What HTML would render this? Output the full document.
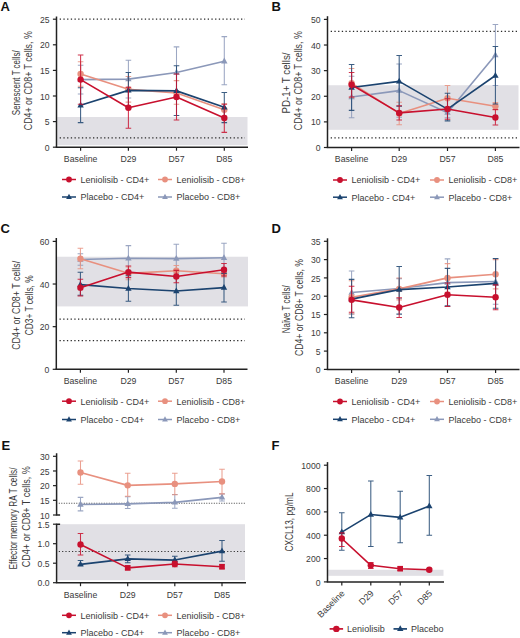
<!DOCTYPE html>
<html><head><meta charset="utf-8"><style>
html,body{margin:0;padding:0;background:#fff;}
svg{display:block;}
</style></head><body>
<svg width="520" height="638" viewBox="0 0 520 638" font-family='"Liberation Sans", sans-serif'>
<rect width="520" height="638" fill="#fff"/>
<text x="0.5" y="11.2" font-size="13" text-anchor="start" font-weight="bold" fill="#111" >A</text>
<rect x="57.25" y="116.99" width="190.25" height="28.21" fill="#E1E0E5"/>
<path d="M59.7 19.2H245" stroke="#2a2a2a" stroke-width="1.25" stroke-dasharray="1.3 2.4"/>
<path d="M59.7 137.98H245" stroke="#2a2a2a" stroke-width="1.25" stroke-dasharray="1.3 2.4"/>
<path d="M80.6 65.28V93.95M77.8 65.28H83.4M77.8 93.95H83.4" stroke="#8B98B9" stroke-width="1.05" stroke-opacity="0.85" fill="none"/>
<path d="M128.4 60.16V98.05M125.6 60.16H131.2M125.6 98.05H131.2" stroke="#8B98B9" stroke-width="1.05" stroke-opacity="0.85" fill="none"/>
<path d="M176.5 46.85V98.05M173.7 46.85H179.3M173.7 98.05H179.3" stroke="#8B98B9" stroke-width="1.05" stroke-opacity="0.85" fill="none"/>
<path d="M224.3 36.61V84.74M221.5 36.61H227.1M221.5 84.74H227.1" stroke="#8B98B9" stroke-width="1.05" stroke-opacity="0.85" fill="none"/>
<polyline points="80.6,79.62 128.4,79.1 176.5,72.45 224.3,61.18" stroke="#8B98B9" stroke-width="1.6" fill="none" stroke-linejoin="round"/>
<path d="M80.6 76.02L83.8 81.82L77.4 81.82Z" fill="#8B98B9"/>
<path d="M128.4 75.51L131.6 81.31L125.2 81.31Z" fill="#8B98B9"/>
<path d="M176.5 68.85L179.7 74.65L173.3 74.65Z" fill="#8B98B9"/>
<path d="M224.3 57.59L227.5 63.39L221.1 63.39Z" fill="#8B98B9"/>
<path d="M80.6 61.7V86.27M77.8 61.7H83.4M77.8 86.27H83.4" stroke="#E8907F" stroke-width="1.05" stroke-opacity="0.85" fill="none"/>
<path d="M128.4 76.54V102.14M125.6 76.54H131.2M125.6 102.14H131.2" stroke="#E8907F" stroke-width="1.05" stroke-opacity="0.85" fill="none"/>
<path d="M176.5 80.64V104.19M173.7 80.64H179.3M173.7 104.19H179.3" stroke="#E8907F" stroke-width="1.05" stroke-opacity="0.85" fill="none"/>
<path d="M224.3 103.68V115.97M221.5 103.68H227.1M221.5 115.97H227.1" stroke="#E8907F" stroke-width="1.05" stroke-opacity="0.85" fill="none"/>
<polyline points="80.6,73.98 128.4,89.34 176.5,92.93 224.3,109.82" stroke="#E8907F" stroke-width="1.6" fill="none" stroke-linejoin="round"/>
<circle cx="80.6" cy="73.98" r="3.2" fill="#E8907F"/>
<circle cx="128.4" cy="89.34" r="3.2" fill="#E8907F"/>
<circle cx="176.5" cy="92.93" r="3.2" fill="#E8907F"/>
<circle cx="224.3" cy="109.82" r="3.2" fill="#E8907F"/>
<path d="M80.6 87.81V122.62M77.8 87.81H83.4M77.8 122.62H83.4" stroke="#1B436F" stroke-width="1.05" stroke-opacity="0.85" fill="none"/>
<path d="M128.4 72.45V108.29M125.6 72.45H131.2M125.6 108.29H131.2" stroke="#1B436F" stroke-width="1.05" stroke-opacity="0.85" fill="none"/>
<path d="M176.5 65.79V115.46M173.7 65.79H179.3M173.7 115.46H179.3" stroke="#1B436F" stroke-width="1.05" stroke-opacity="0.85" fill="none"/>
<path d="M224.3 92.42V122.62M221.5 92.42H227.1M221.5 122.62H227.1" stroke="#1B436F" stroke-width="1.05" stroke-opacity="0.85" fill="none"/>
<polyline points="80.6,105.22 128.4,90.37 176.5,90.88 224.3,107.26" stroke="#1B436F" stroke-width="1.6" fill="none" stroke-linejoin="round"/>
<path d="M80.6 101.62L83.8 107.42L77.4 107.42Z" fill="#1B436F"/>
<path d="M128.4 86.77L131.6 92.57L125.2 92.57Z" fill="#1B436F"/>
<path d="M176.5 87.28L179.7 93.08L173.3 93.08Z" fill="#1B436F"/>
<path d="M224.3 103.67L227.5 109.47L221.1 109.47Z" fill="#1B436F"/>
<path d="M80.6 55.04V104.19M77.8 55.04H83.4M77.8 104.19H83.4" stroke="#C8102E" stroke-width="1.05" stroke-opacity="0.85" fill="none"/>
<path d="M128.4 87.3V128.26M125.6 87.3H131.2M125.6 128.26H131.2" stroke="#C8102E" stroke-width="1.05" stroke-opacity="0.85" fill="none"/>
<path d="M176.5 73.98V120.06M173.7 73.98H179.3M173.7 120.06H179.3" stroke="#C8102E" stroke-width="1.05" stroke-opacity="0.85" fill="none"/>
<path d="M224.3 104.19V132.35M221.5 104.19H227.1M221.5 132.35H227.1" stroke="#C8102E" stroke-width="1.05" stroke-opacity="0.85" fill="none"/>
<polyline points="80.6,79.62 128.4,107.78 176.5,97.02 224.3,118.02" stroke="#C8102E" stroke-width="1.6" fill="none" stroke-linejoin="round"/>
<circle cx="80.6" cy="79.62" r="3.2" fill="#C8102E"/>
<circle cx="128.4" cy="107.78" r="3.2" fill="#C8102E"/>
<circle cx="176.5" cy="97.02" r="3.2" fill="#C8102E"/>
<circle cx="224.3" cy="118.02" r="3.2" fill="#C8102E"/>
<path d="M56.5 16.5V147.2" stroke="#222" stroke-width="1.5"/>
<path d="M52.9 147.2H56.5" stroke="#222" stroke-width="1.2"/>
<text transform="translate(49.5 150.8) scale(0.88 1)" font-size="9.8" text-anchor="end" font-weight="normal" fill="#3a3a3a" >0</text>
<path d="M52.9 121.6H56.5" stroke="#222" stroke-width="1.2"/>
<text transform="translate(49.5 125.2) scale(0.88 1)" font-size="9.8" text-anchor="end" font-weight="normal" fill="#3a3a3a" >5</text>
<path d="M52.9 96H56.5" stroke="#222" stroke-width="1.2"/>
<text transform="translate(49.5 99.6) scale(0.88 1)" font-size="9.8" text-anchor="end" font-weight="normal" fill="#3a3a3a" >10</text>
<path d="M52.9 70.4H56.5" stroke="#222" stroke-width="1.2"/>
<text transform="translate(49.5 74) scale(0.88 1)" font-size="9.8" text-anchor="end" font-weight="normal" fill="#3a3a3a" >15</text>
<path d="M52.9 44.8H56.5" stroke="#222" stroke-width="1.2"/>
<text transform="translate(49.5 48.4) scale(0.88 1)" font-size="9.8" text-anchor="end" font-weight="normal" fill="#3a3a3a" >20</text>
<path d="M52.9 19.2H56.5" stroke="#222" stroke-width="1.2"/>
<text transform="translate(49.5 22.8) scale(0.88 1)" font-size="9.8" text-anchor="end" font-weight="normal" fill="#3a3a3a" >25</text>
<path d="M55.75 147.2H248" stroke="#222" stroke-width="1.5"/>
<path d="M80.6 147.2V150.7" stroke="#222" stroke-width="1.2"/>
<text transform="translate(80.6 162) scale(0.94 1)" font-size="9.3" text-anchor="middle" font-weight="normal" fill="#3a3a3a" >Baseline</text>
<path d="M128.4 147.2V150.7" stroke="#222" stroke-width="1.2"/>
<text transform="translate(128.4 162) scale(0.94 1)" font-size="9.3" text-anchor="middle" font-weight="normal" fill="#3a3a3a" >D29</text>
<path d="M176.5 147.2V150.7" stroke="#222" stroke-width="1.2"/>
<text transform="translate(176.5 162) scale(0.94 1)" font-size="9.3" text-anchor="middle" font-weight="normal" fill="#3a3a3a" >D57</text>
<path d="M224.3 147.2V150.7" stroke="#222" stroke-width="1.2"/>
<text transform="translate(224.3 162) scale(0.94 1)" font-size="9.3" text-anchor="middle" font-weight="normal" fill="#3a3a3a" >D85</text>
<text transform="translate(19.5 82.7) rotate(-90)" x="0" y="0" font-size="10.3" text-anchor="middle" fill="#3a3a3a" textLength="65" lengthAdjust="spacingAndGlyphs">Senescent T cells/</text>
<text transform="translate(32.1 80.7) rotate(-90)" x="0" y="0" font-size="10.3" text-anchor="middle" fill="#3a3a3a" textLength="99" lengthAdjust="spacingAndGlyphs">CD4+ or CD8+ T cells, %</text>
<path d="M62 179.5H76" stroke="#C8102E" stroke-width="1.5"/>
<circle cx="69" cy="179.5" r="2.88" fill="#C8102E"/>
<text transform="translate(80.5 182.8) scale(0.94 1)" font-size="9.6" text-anchor="start" font-weight="normal" fill="#3a3a3a" >Leniolisib - CD4+</text>
<path d="M158 179.5H172" stroke="#E8907F" stroke-width="1.5"/>
<circle cx="165" cy="179.5" r="2.88" fill="#E8907F"/>
<text transform="translate(176.5 182.8) scale(0.94 1)" font-size="9.6" text-anchor="start" font-weight="normal" fill="#3a3a3a" >Leniolisib - CD8+</text>
<path d="M62 197H76" stroke="#1B436F" stroke-width="1.5"/>
<path d="M69 193.76L71.88 198.98L66.12 198.98Z" fill="#1B436F"/>
<text transform="translate(80.5 200.3) scale(0.94 1)" font-size="9.6" text-anchor="start" font-weight="normal" fill="#3a3a3a" >Placebo - CD4+</text>
<path d="M158 197H172" stroke="#8B98B9" stroke-width="1.5"/>
<path d="M165 193.76L167.88 198.98L162.12 198.98Z" fill="#8B98B9"/>
<text transform="translate(176.5 200.3) scale(0.94 1)" font-size="9.6" text-anchor="start" font-weight="normal" fill="#3a3a3a" >Placebo - CD8+</text>
<text x="271.5" y="11.2" font-size="13" text-anchor="start" font-weight="bold" fill="#111" >B</text>
<rect x="328.25" y="85.24" width="190.25" height="44.58" fill="#E1E0E5"/>
<path d="M330.7 31.44H517" stroke="#2a2a2a" stroke-width="1.25" stroke-dasharray="1.3 2.4"/>
<path d="M330.7 137.76H517" stroke="#2a2a2a" stroke-width="1.25" stroke-dasharray="1.3 2.4"/>
<path d="M351.6 76.28V117.78M348.8 76.28H354.4M348.8 117.78H354.4" stroke="#8B98B9" stroke-width="1.05" stroke-opacity="0.85" fill="none"/>
<path d="M399.2 63.98V117.27M396.4 63.98H402M396.4 117.27H402" stroke="#8B98B9" stroke-width="1.05" stroke-opacity="0.85" fill="none"/>
<path d="M447.5 107.53V117.78M444.7 107.53H450.3M444.7 117.78H450.3" stroke="#8B98B9" stroke-width="1.05" stroke-opacity="0.85" fill="none"/>
<path d="M495.4 24.52V85.5M492.6 24.52H498.2M492.6 85.5H498.2" stroke="#8B98B9" stroke-width="1.05" stroke-opacity="0.85" fill="none"/>
<polyline points="351.6,97.03 399.2,90.62 447.5,112.66 495.4,55.01" stroke="#8B98B9" stroke-width="1.6" fill="none" stroke-linejoin="round"/>
<path d="M351.6 93.43L354.8 99.23L348.4 99.23Z" fill="#8B98B9"/>
<path d="M399.2 87.03L402.4 92.83L396 92.83Z" fill="#8B98B9"/>
<path d="M447.5 109.06L450.7 114.86L444.3 114.86Z" fill="#8B98B9"/>
<path d="M495.4 51.42L498.6 57.22L492.2 57.22Z" fill="#8B98B9"/>
<path d="M351.6 68.59V97.8M348.8 68.59H354.4M348.8 97.8H354.4" stroke="#E8907F" stroke-width="1.05" stroke-opacity="0.85" fill="none"/>
<path d="M399.2 102.15V124.7M396.4 102.15H402M396.4 124.7H402" stroke="#E8907F" stroke-width="1.05" stroke-opacity="0.85" fill="none"/>
<path d="M447.5 85.5V111.12M444.7 85.5H450.3M444.7 111.12H450.3" stroke="#E8907F" stroke-width="1.05" stroke-opacity="0.85" fill="none"/>
<path d="M495.4 102.41V110.09M492.6 102.41H498.2M492.6 110.09H498.2" stroke="#E8907F" stroke-width="1.05" stroke-opacity="0.85" fill="none"/>
<polyline points="351.6,83.19 399.2,113.43 447.5,98.31 495.4,106.25" stroke="#E8907F" stroke-width="1.6" fill="none" stroke-linejoin="round"/>
<circle cx="351.6" cy="83.19" r="3.2" fill="#E8907F"/>
<circle cx="399.2" cy="113.43" r="3.2" fill="#E8907F"/>
<circle cx="447.5" cy="98.31" r="3.2" fill="#E8907F"/>
<circle cx="495.4" cy="106.25" r="3.2" fill="#E8907F"/>
<path d="M351.6 64.49V110.35M348.8 64.49H354.4M348.8 110.35H354.4" stroke="#1B436F" stroke-width="1.05" stroke-opacity="0.85" fill="none"/>
<path d="M399.2 55.52V106.25M396.4 55.52H402M396.4 106.25H402" stroke="#1B436F" stroke-width="1.05" stroke-opacity="0.85" fill="none"/>
<path d="M447.5 93.19V120.86M444.7 93.19H450.3M444.7 120.86H450.3" stroke="#1B436F" stroke-width="1.05" stroke-opacity="0.85" fill="none"/>
<path d="M495.4 46.56V103.95M492.6 46.56H498.2M492.6 103.95H498.2" stroke="#1B436F" stroke-width="1.05" stroke-opacity="0.85" fill="none"/>
<polyline points="351.6,87.55 399.2,81.4 447.5,109.07 495.4,75.51" stroke="#1B436F" stroke-width="1.6" fill="none" stroke-linejoin="round"/>
<path d="M351.6 83.95L354.8 89.75L348.4 89.75Z" fill="#1B436F"/>
<path d="M399.2 77.8L402.4 83.6L396 83.6Z" fill="#1B436F"/>
<path d="M447.5 105.47L450.7 111.27L444.3 111.27Z" fill="#1B436F"/>
<path d="M495.4 71.91L498.6 77.71L492.2 77.71Z" fill="#1B436F"/>
<path d="M351.6 72.43V97.03M348.8 72.43H354.4M348.8 97.03H354.4" stroke="#C8102E" stroke-width="1.05" stroke-opacity="0.85" fill="none"/>
<path d="M399.2 105.74V120.09M396.4 105.74H402M396.4 120.09H402" stroke="#C8102E" stroke-width="1.05" stroke-opacity="0.85" fill="none"/>
<path d="M447.5 98.82V119.32M444.7 98.82H450.3M444.7 119.32H450.3" stroke="#C8102E" stroke-width="1.05" stroke-opacity="0.85" fill="none"/>
<path d="M495.4 109.58V124.95M492.6 109.58H498.2M492.6 124.95H498.2" stroke="#C8102E" stroke-width="1.05" stroke-opacity="0.85" fill="none"/>
<polyline points="351.6,84.73 399.2,112.91 447.5,109.07 495.4,117.52" stroke="#C8102E" stroke-width="1.6" fill="none" stroke-linejoin="round"/>
<circle cx="351.6" cy="84.73" r="3.2" fill="#C8102E"/>
<circle cx="399.2" cy="112.91" r="3.2" fill="#C8102E"/>
<circle cx="447.5" cy="109.07" r="3.2" fill="#C8102E"/>
<circle cx="495.4" cy="117.52" r="3.2" fill="#C8102E"/>
<path d="M327.5 16.2V147.5" stroke="#222" stroke-width="1.5"/>
<path d="M323.9 147.5H327.5" stroke="#222" stroke-width="1.2"/>
<text transform="translate(320.5 151.1) scale(0.88 1)" font-size="9.8" text-anchor="end" font-weight="normal" fill="#3a3a3a" >0</text>
<path d="M323.9 121.88H327.5" stroke="#222" stroke-width="1.2"/>
<text transform="translate(320.5 125.48) scale(0.88 1)" font-size="9.8" text-anchor="end" font-weight="normal" fill="#3a3a3a" >10</text>
<path d="M323.9 96.26H327.5" stroke="#222" stroke-width="1.2"/>
<text transform="translate(320.5 99.86) scale(0.88 1)" font-size="9.8" text-anchor="end" font-weight="normal" fill="#3a3a3a" >20</text>
<path d="M323.9 70.64H327.5" stroke="#222" stroke-width="1.2"/>
<text transform="translate(320.5 74.24) scale(0.88 1)" font-size="9.8" text-anchor="end" font-weight="normal" fill="#3a3a3a" >30</text>
<path d="M323.9 45.02H327.5" stroke="#222" stroke-width="1.2"/>
<text transform="translate(320.5 48.62) scale(0.88 1)" font-size="9.8" text-anchor="end" font-weight="normal" fill="#3a3a3a" >40</text>
<path d="M323.9 19.4H327.5" stroke="#222" stroke-width="1.2"/>
<text transform="translate(320.5 23) scale(0.88 1)" font-size="9.8" text-anchor="end" font-weight="normal" fill="#3a3a3a" >50</text>
<path d="M326.75 147.5H519.5" stroke="#222" stroke-width="1.5"/>
<path d="M351.6 147.5V151" stroke="#222" stroke-width="1.2"/>
<text transform="translate(351.6 162.3) scale(0.94 1)" font-size="9.3" text-anchor="middle" font-weight="normal" fill="#3a3a3a" >Baseline</text>
<path d="M399.2 147.5V151" stroke="#222" stroke-width="1.2"/>
<text transform="translate(399.2 162.3) scale(0.94 1)" font-size="9.3" text-anchor="middle" font-weight="normal" fill="#3a3a3a" >D29</text>
<path d="M447.5 147.5V151" stroke="#222" stroke-width="1.2"/>
<text transform="translate(447.5 162.3) scale(0.94 1)" font-size="9.3" text-anchor="middle" font-weight="normal" fill="#3a3a3a" >D57</text>
<path d="M495.4 147.5V151" stroke="#222" stroke-width="1.2"/>
<text transform="translate(495.4 162.3) scale(0.94 1)" font-size="9.3" text-anchor="middle" font-weight="normal" fill="#3a3a3a" >D85</text>
<text transform="translate(289.8 83) rotate(-90)" x="0" y="0" font-size="10.3" text-anchor="middle" fill="#3a3a3a" textLength="61" lengthAdjust="spacingAndGlyphs">PD-1+ T cells/</text>
<text transform="translate(302.4 80.7) rotate(-90)" x="0" y="0" font-size="10.3" text-anchor="middle" fill="#3a3a3a" textLength="99" lengthAdjust="spacingAndGlyphs">CD4+ or CD8+ T cells, %</text>
<path d="M333 180H347" stroke="#C8102E" stroke-width="1.5"/>
<circle cx="340" cy="180" r="2.88" fill="#C8102E"/>
<text transform="translate(351.5 183.3) scale(0.94 1)" font-size="9.6" text-anchor="start" font-weight="normal" fill="#3a3a3a" >Leniolisib - CD4+</text>
<path d="M430 180H444" stroke="#E8907F" stroke-width="1.5"/>
<circle cx="437" cy="180" r="2.88" fill="#E8907F"/>
<text transform="translate(448.5 183.3) scale(0.94 1)" font-size="9.6" text-anchor="start" font-weight="normal" fill="#3a3a3a" >Leniolisib - CD8+</text>
<path d="M333 197.2H347" stroke="#1B436F" stroke-width="1.5"/>
<path d="M340 193.96L342.88 199.18L337.12 199.18Z" fill="#1B436F"/>
<text transform="translate(351.5 200.5) scale(0.94 1)" font-size="9.6" text-anchor="start" font-weight="normal" fill="#3a3a3a" >Placebo - CD4+</text>
<path d="M430 197.2H444" stroke="#8B98B9" stroke-width="1.5"/>
<path d="M437 193.96L439.88 199.18L434.12 199.18Z" fill="#8B98B9"/>
<text transform="translate(448.5 200.5) scale(0.94 1)" font-size="9.6" text-anchor="start" font-weight="normal" fill="#3a3a3a" >Placebo - CD8+</text>
<text x="0.5" y="233.3" font-size="13" text-anchor="start" font-weight="bold" fill="#111" >C</text>
<rect x="57.05" y="256.73" width="190.95" height="49.68" fill="#E1E0E5"/>
<path d="M59.5 319.2H245" stroke="#2a2a2a" stroke-width="1.25" stroke-dasharray="1.3 2.4"/>
<path d="M59.5 340.52H245" stroke="#2a2a2a" stroke-width="1.25" stroke-dasharray="1.3 2.4"/>
<path d="M80.4 253.75V265.26M77.6 253.75H83.2M77.6 265.26H83.2" stroke="#8B98B9" stroke-width="1.05" stroke-opacity="0.85" fill="none"/>
<path d="M128.4 245.64V270.8M125.6 245.64H131.2M125.6 270.8H131.2" stroke="#8B98B9" stroke-width="1.05" stroke-opacity="0.85" fill="none"/>
<path d="M176.3 244.15V273.15M173.5 244.15H179.1M173.5 273.15H179.1" stroke="#8B98B9" stroke-width="1.05" stroke-opacity="0.85" fill="none"/>
<path d="M224 243.3V272.29M221.2 243.3H226.8M221.2 272.29H226.8" stroke="#8B98B9" stroke-width="1.05" stroke-opacity="0.85" fill="none"/>
<polyline points="80.4,259.5 128.4,258.22 176.3,258.65 224,257.8" stroke="#8B98B9" stroke-width="1.6" fill="none" stroke-linejoin="round"/>
<path d="M80.4 255.91L83.6 261.71L77.2 261.71Z" fill="#8B98B9"/>
<path d="M128.4 254.63L131.6 260.43L125.2 260.43Z" fill="#8B98B9"/>
<path d="M176.3 255.05L179.5 260.85L173.1 260.85Z" fill="#8B98B9"/>
<path d="M224 254.2L227.2 260L220.8 260Z" fill="#8B98B9"/>
<path d="M80.4 248.2V268.67M77.6 248.2H83.2M77.6 268.67H83.2" stroke="#E8907F" stroke-width="1.05" stroke-opacity="0.85" fill="none"/>
<path d="M128.4 266.96V279.76M125.6 266.96H131.2M125.6 279.76H131.2" stroke="#E8907F" stroke-width="1.05" stroke-opacity="0.85" fill="none"/>
<path d="M176.3 265.47V276.13M173.5 265.47H179.1M173.5 276.13H179.1" stroke="#E8907F" stroke-width="1.05" stroke-opacity="0.85" fill="none"/>
<path d="M224 270.59V276.98M221.2 270.59H226.8M221.2 276.98H226.8" stroke="#E8907F" stroke-width="1.05" stroke-opacity="0.85" fill="none"/>
<polyline points="80.4,258.65 128.4,273.36 176.3,270.8 224,273.79" stroke="#E8907F" stroke-width="1.6" fill="none" stroke-linejoin="round"/>
<circle cx="80.4" cy="258.65" r="3.2" fill="#E8907F"/>
<circle cx="128.4" cy="273.36" r="3.2" fill="#E8907F"/>
<circle cx="176.3" cy="270.8" r="3.2" fill="#E8907F"/>
<circle cx="224" cy="273.79" r="3.2" fill="#E8907F"/>
<path d="M80.4 272.29V295.32M77.6 272.29H83.2M77.6 295.32H83.2" stroke="#1B436F" stroke-width="1.05" stroke-opacity="0.85" fill="none"/>
<path d="M128.4 275.71V301.29M125.6 275.71H131.2M125.6 301.29H131.2" stroke="#1B436F" stroke-width="1.05" stroke-opacity="0.85" fill="none"/>
<path d="M176.3 276.77V305.34M173.5 276.77H179.1M173.5 305.34H179.1" stroke="#1B436F" stroke-width="1.05" stroke-opacity="0.85" fill="none"/>
<path d="M224 273.36V301.93M221.2 273.36H226.8M221.2 301.93H226.8" stroke="#1B436F" stroke-width="1.05" stroke-opacity="0.85" fill="none"/>
<polyline points="80.4,284.66 128.4,288.5 176.3,291.06 224,287.64" stroke="#1B436F" stroke-width="1.6" fill="none" stroke-linejoin="round"/>
<path d="M80.4 281.06L83.6 286.86L77.2 286.86Z" fill="#1B436F"/>
<path d="M128.4 284.9L131.6 290.7L125.2 290.7Z" fill="#1B436F"/>
<path d="M176.3 287.46L179.5 293.26L173.1 293.26Z" fill="#1B436F"/>
<path d="M224 284.05L227.2 289.85L220.8 289.85Z" fill="#1B436F"/>
<path d="M80.4 279.33V295.96M77.6 279.33H83.2M77.6 295.96H83.2" stroke="#C8102E" stroke-width="1.05" stroke-opacity="0.85" fill="none"/>
<path d="M128.4 265.9V277.62M125.6 265.9H131.2M125.6 277.62H131.2" stroke="#C8102E" stroke-width="1.05" stroke-opacity="0.85" fill="none"/>
<path d="M176.3 270.38V282.74M173.5 270.38H179.1M173.5 282.74H179.1" stroke="#C8102E" stroke-width="1.05" stroke-opacity="0.85" fill="none"/>
<path d="M224 263.55V275.92M221.2 263.55H226.8M221.2 275.92H226.8" stroke="#C8102E" stroke-width="1.05" stroke-opacity="0.85" fill="none"/>
<polyline points="80.4,287.64 128.4,272.08 176.3,276.56 224,269.74" stroke="#C8102E" stroke-width="1.6" fill="none" stroke-linejoin="round"/>
<circle cx="80.4" cy="287.64" r="3.2" fill="#C8102E"/>
<circle cx="128.4" cy="272.08" r="3.2" fill="#C8102E"/>
<circle cx="176.3" cy="276.56" r="3.2" fill="#C8102E"/>
<circle cx="224" cy="269.74" r="3.2" fill="#C8102E"/>
<path d="M56.3 238V369.3" stroke="#222" stroke-width="1.5"/>
<path d="M52.7 369.3H56.3" stroke="#222" stroke-width="1.2"/>
<text transform="translate(49.3 372.9) scale(0.88 1)" font-size="9.8" text-anchor="end" font-weight="normal" fill="#3a3a3a" >0</text>
<path d="M52.7 326.66H56.3" stroke="#222" stroke-width="1.2"/>
<text transform="translate(49.3 330.26) scale(0.88 1)" font-size="9.8" text-anchor="end" font-weight="normal" fill="#3a3a3a" >20</text>
<path d="M52.7 284.02H56.3" stroke="#222" stroke-width="1.2"/>
<text transform="translate(49.3 287.62) scale(0.88 1)" font-size="9.8" text-anchor="end" font-weight="normal" fill="#3a3a3a" >40</text>
<path d="M52.7 241.38H56.3" stroke="#222" stroke-width="1.2"/>
<text transform="translate(49.3 244.98) scale(0.88 1)" font-size="9.8" text-anchor="end" font-weight="normal" fill="#3a3a3a" >60</text>
<path d="M55.55 369.3H247.5" stroke="#222" stroke-width="1.5"/>
<path d="M80.4 369.3V372.8" stroke="#222" stroke-width="1.2"/>
<text transform="translate(80.4 384.1) scale(0.94 1)" font-size="9.3" text-anchor="middle" font-weight="normal" fill="#3a3a3a" >Baseline</text>
<path d="M128.4 369.3V372.8" stroke="#222" stroke-width="1.2"/>
<text transform="translate(128.4 384.1) scale(0.94 1)" font-size="9.3" text-anchor="middle" font-weight="normal" fill="#3a3a3a" >D29</text>
<path d="M176.3 369.3V372.8" stroke="#222" stroke-width="1.2"/>
<text transform="translate(176.3 384.1) scale(0.94 1)" font-size="9.3" text-anchor="middle" font-weight="normal" fill="#3a3a3a" >D57</text>
<path d="M224 369.3V372.8" stroke="#222" stroke-width="1.2"/>
<text transform="translate(224 384.1) scale(0.94 1)" font-size="9.3" text-anchor="middle" font-weight="normal" fill="#3a3a3a" >D85</text>
<text transform="translate(20 305.3) rotate(-90)" x="0" y="0" font-size="10.3" text-anchor="middle" fill="#3a3a3a" textLength="89" lengthAdjust="spacingAndGlyphs">CD4+ or CD8+ T cells/</text>
<text transform="translate(32.6 305.3) rotate(-90)" x="0" y="0" font-size="10.3" text-anchor="middle" fill="#3a3a3a" textLength="60" lengthAdjust="spacingAndGlyphs">CD3+ T cells, %</text>
<path d="M62 401.2H76" stroke="#C8102E" stroke-width="1.5"/>
<circle cx="69" cy="401.2" r="2.88" fill="#C8102E"/>
<text transform="translate(80.5 404.5) scale(0.94 1)" font-size="9.6" text-anchor="start" font-weight="normal" fill="#3a3a3a" >Leniolisib - CD4+</text>
<path d="M158 401.2H172" stroke="#E8907F" stroke-width="1.5"/>
<circle cx="165" cy="401.2" r="2.88" fill="#E8907F"/>
<text transform="translate(176.5 404.5) scale(0.94 1)" font-size="9.6" text-anchor="start" font-weight="normal" fill="#3a3a3a" >Leniolisib - CD8+</text>
<path d="M62 419.5H76" stroke="#1B436F" stroke-width="1.5"/>
<path d="M69 416.26L71.88 421.48L66.12 421.48Z" fill="#1B436F"/>
<text transform="translate(80.5 422.8) scale(0.94 1)" font-size="9.6" text-anchor="start" font-weight="normal" fill="#3a3a3a" >Placebo - CD4+</text>
<path d="M158 419.5H172" stroke="#8B98B9" stroke-width="1.5"/>
<path d="M165 416.26L167.88 421.48L162.12 421.48Z" fill="#8B98B9"/>
<text transform="translate(176.5 422.8) scale(0.94 1)" font-size="9.6" text-anchor="start" font-weight="normal" fill="#3a3a3a" >Placebo - CD8+</text>
<text x="271.5" y="233.3" font-size="13" text-anchor="start" font-weight="bold" fill="#111" >D</text>
<path d="M351.6 270.95V314.13M348.8 270.95H354.4M348.8 314.13H354.4" stroke="#8B98B9" stroke-width="1.05" stroke-opacity="0.85" fill="none"/>
<path d="M399.2 278.63V298.4M396.4 278.63H402M396.4 298.4H402" stroke="#8B98B9" stroke-width="1.05" stroke-opacity="0.85" fill="none"/>
<path d="M447.5 258.87V306.45M444.7 258.87H450.3M444.7 306.45H450.3" stroke="#8B98B9" stroke-width="1.05" stroke-opacity="0.85" fill="none"/>
<path d="M495.6 258.87V304.25M492.8 258.87H498.4M492.8 304.25H498.4" stroke="#8B98B9" stroke-width="1.05" stroke-opacity="0.85" fill="none"/>
<polyline points="351.6,292.54 399.2,288.51 447.5,282.66 495.6,281.56" stroke="#8B98B9" stroke-width="1.6" fill="none" stroke-linejoin="round"/>
<path d="M351.6 288.94L354.8 294.74L348.4 294.74Z" fill="#8B98B9"/>
<path d="M399.2 284.92L402.4 290.72L396 290.72Z" fill="#8B98B9"/>
<path d="M447.5 279.06L450.7 284.86L444.3 284.86Z" fill="#8B98B9"/>
<path d="M495.6 277.96L498.8 283.76L492.4 283.76Z" fill="#8B98B9"/>
<path d="M351.6 280.83V313.77M348.8 280.83H354.4M348.8 313.77H354.4" stroke="#E8907F" stroke-width="1.05" stroke-opacity="0.85" fill="none"/>
<path d="M399.2 277.9V299.86M396.4 277.9H402M396.4 299.86H402" stroke="#E8907F" stroke-width="1.05" stroke-opacity="0.85" fill="none"/>
<path d="M447.5 263.63V292.17M444.7 263.63H450.3M444.7 292.17H450.3" stroke="#E8907F" stroke-width="1.05" stroke-opacity="0.85" fill="none"/>
<path d="M495.6 259.6V288.88M492.8 259.6H498.4M492.8 288.88H498.4" stroke="#E8907F" stroke-width="1.05" stroke-opacity="0.85" fill="none"/>
<polyline points="351.6,297.3 399.2,288.88 447.5,277.9 495.6,274.24" stroke="#E8907F" stroke-width="1.6" fill="none" stroke-linejoin="round"/>
<circle cx="351.6" cy="297.3" r="3.2" fill="#E8907F"/>
<circle cx="399.2" cy="288.88" r="3.2" fill="#E8907F"/>
<circle cx="447.5" cy="277.9" r="3.2" fill="#E8907F"/>
<circle cx="495.6" cy="274.24" r="3.2" fill="#E8907F"/>
<path d="M351.6 279.36V317.79M348.8 279.36H354.4M348.8 317.79H354.4" stroke="#1B436F" stroke-width="1.05" stroke-opacity="0.85" fill="none"/>
<path d="M399.2 266.55V314.13M396.4 266.55H402M396.4 314.13H402" stroke="#1B436F" stroke-width="1.05" stroke-opacity="0.85" fill="none"/>
<path d="M447.5 268.38V305.72M444.7 268.38H450.3M444.7 305.72H450.3" stroke="#1B436F" stroke-width="1.05" stroke-opacity="0.85" fill="none"/>
<path d="M495.6 258.5V308.28M492.8 258.5H498.4M492.8 308.28H498.4" stroke="#1B436F" stroke-width="1.05" stroke-opacity="0.85" fill="none"/>
<polyline points="351.6,299.13 399.2,289.61 447.5,287.05 495.6,283.39" stroke="#1B436F" stroke-width="1.6" fill="none" stroke-linejoin="round"/>
<path d="M351.6 295.53L354.8 301.33L348.4 301.33Z" fill="#1B436F"/>
<path d="M399.2 286.02L402.4 291.82L396 291.82Z" fill="#1B436F"/>
<path d="M447.5 283.45L450.7 289.25L444.3 289.25Z" fill="#1B436F"/>
<path d="M495.6 279.79L498.8 285.59L492.4 285.59Z" fill="#1B436F"/>
<path d="M351.6 286.32V312.3M348.8 286.32H354.4M348.8 312.3H354.4" stroke="#C8102E" stroke-width="1.05" stroke-opacity="0.85" fill="none"/>
<path d="M399.2 297.66V317.43M396.4 297.66H402M396.4 317.43H402" stroke="#C8102E" stroke-width="1.05" stroke-opacity="0.85" fill="none"/>
<path d="M447.5 283.02V306.45M444.7 283.02H450.3M444.7 306.45H450.3" stroke="#C8102E" stroke-width="1.05" stroke-opacity="0.85" fill="none"/>
<path d="M495.6 284.85V309.74M492.8 284.85H498.4M492.8 309.74H498.4" stroke="#C8102E" stroke-width="1.05" stroke-opacity="0.85" fill="none"/>
<polyline points="351.6,299.86 399.2,307.55 447.5,294.74 495.6,297.3" stroke="#C8102E" stroke-width="1.6" fill="none" stroke-linejoin="round"/>
<circle cx="351.6" cy="299.86" r="3.2" fill="#C8102E"/>
<circle cx="399.2" cy="307.55" r="3.2" fill="#C8102E"/>
<circle cx="447.5" cy="294.74" r="3.2" fill="#C8102E"/>
<circle cx="495.6" cy="297.3" r="3.2" fill="#C8102E"/>
<path d="M327.5 238.3V369.4" stroke="#222" stroke-width="1.5"/>
<path d="M323.9 369.4H327.5" stroke="#222" stroke-width="1.2"/>
<text transform="translate(320.5 373) scale(0.88 1)" font-size="9.8" text-anchor="end" font-weight="normal" fill="#3a3a3a" >0</text>
<path d="M323.9 351.1H327.5" stroke="#222" stroke-width="1.2"/>
<text transform="translate(320.5 354.7) scale(0.88 1)" font-size="9.8" text-anchor="end" font-weight="normal" fill="#3a3a3a" >5</text>
<path d="M323.9 332.8H327.5" stroke="#222" stroke-width="1.2"/>
<text transform="translate(320.5 336.4) scale(0.88 1)" font-size="9.8" text-anchor="end" font-weight="normal" fill="#3a3a3a" >10</text>
<path d="M323.9 314.5H327.5" stroke="#222" stroke-width="1.2"/>
<text transform="translate(320.5 318.1) scale(0.88 1)" font-size="9.8" text-anchor="end" font-weight="normal" fill="#3a3a3a" >15</text>
<path d="M323.9 296.2H327.5" stroke="#222" stroke-width="1.2"/>
<text transform="translate(320.5 299.8) scale(0.88 1)" font-size="9.8" text-anchor="end" font-weight="normal" fill="#3a3a3a" >20</text>
<path d="M323.9 277.9H327.5" stroke="#222" stroke-width="1.2"/>
<text transform="translate(320.5 281.5) scale(0.88 1)" font-size="9.8" text-anchor="end" font-weight="normal" fill="#3a3a3a" >25</text>
<path d="M323.9 259.6H327.5" stroke="#222" stroke-width="1.2"/>
<text transform="translate(320.5 263.2) scale(0.88 1)" font-size="9.8" text-anchor="end" font-weight="normal" fill="#3a3a3a" >30</text>
<path d="M323.9 241.3H327.5" stroke="#222" stroke-width="1.2"/>
<text transform="translate(320.5 244.9) scale(0.88 1)" font-size="9.8" text-anchor="end" font-weight="normal" fill="#3a3a3a" >35</text>
<path d="M326.75 369.4H519.5" stroke="#222" stroke-width="1.5"/>
<path d="M351.6 369.4V372.9" stroke="#222" stroke-width="1.2"/>
<text transform="translate(351.6 384.2) scale(0.94 1)" font-size="9.3" text-anchor="middle" font-weight="normal" fill="#3a3a3a" >Baseline</text>
<path d="M399.2 369.4V372.9" stroke="#222" stroke-width="1.2"/>
<text transform="translate(399.2 384.2) scale(0.94 1)" font-size="9.3" text-anchor="middle" font-weight="normal" fill="#3a3a3a" >D29</text>
<path d="M447.5 369.4V372.9" stroke="#222" stroke-width="1.2"/>
<text transform="translate(447.5 384.2) scale(0.94 1)" font-size="9.3" text-anchor="middle" font-weight="normal" fill="#3a3a3a" >D57</text>
<path d="M495.6 369.4V372.9" stroke="#222" stroke-width="1.2"/>
<text transform="translate(495.6 384.2) scale(0.94 1)" font-size="9.3" text-anchor="middle" font-weight="normal" fill="#3a3a3a" >D85</text>
<text transform="translate(290.3 309.3) rotate(-90)" x="0" y="0" font-size="10.3" text-anchor="middle" fill="#3a3a3a" textLength="48" lengthAdjust="spacingAndGlyphs">Naïve T cells/</text>
<text transform="translate(302.9 307.5) rotate(-90)" x="0" y="0" font-size="10.3" text-anchor="middle" fill="#3a3a3a" textLength="97" lengthAdjust="spacingAndGlyphs">CD4+ or CD8+ T cells, %</text>
<path d="M333 401.5H347" stroke="#C8102E" stroke-width="1.5"/>
<circle cx="340" cy="401.5" r="2.88" fill="#C8102E"/>
<text transform="translate(351.5 404.8) scale(0.94 1)" font-size="9.6" text-anchor="start" font-weight="normal" fill="#3a3a3a" >Leniolisib - CD4+</text>
<path d="M430 401.5H444" stroke="#E8907F" stroke-width="1.5"/>
<circle cx="437" cy="401.5" r="2.88" fill="#E8907F"/>
<text transform="translate(448.5 404.8) scale(0.94 1)" font-size="9.6" text-anchor="start" font-weight="normal" fill="#3a3a3a" >Leniolisib - CD8+</text>
<path d="M333 419.3H347" stroke="#1B436F" stroke-width="1.5"/>
<path d="M340 416.06L342.88 421.28L337.12 421.28Z" fill="#1B436F"/>
<text transform="translate(351.5 422.6) scale(0.94 1)" font-size="9.6" text-anchor="start" font-weight="normal" fill="#3a3a3a" >Placebo - CD4+</text>
<path d="M430 419.3H444" stroke="#8B98B9" stroke-width="1.5"/>
<path d="M437 416.06L439.88 421.28L434.12 421.28Z" fill="#8B98B9"/>
<text transform="translate(448.5 422.6) scale(0.94 1)" font-size="9.6" text-anchor="start" font-weight="normal" fill="#3a3a3a" >Placebo - CD8+</text>
<text x="1.5" y="450.2" font-size="13" text-anchor="start" font-weight="bold" fill="#111" >E</text>
<rect x="57.35" y="524.2" width="187.65" height="56" fill="#E1E0E5"/>
<path d="M58.8 503.26H246" stroke="#444" stroke-width="1.0" stroke-dasharray="1 1.5"/>
<path d="M58.8 551.5H245" stroke="#333" stroke-width="1.2" stroke-dasharray="1.2 2.1"/>
<path d="M80.5 497.39V510.89M77.7 497.39H83.3M77.7 510.89H83.3" stroke="#8B98B9" stroke-width="1.05" stroke-opacity="0.85" fill="none"/>
<path d="M127.7 496.8V508.54M124.9 496.8H130.5M124.9 508.54H130.5" stroke="#8B98B9" stroke-width="1.05" stroke-opacity="0.85" fill="none"/>
<path d="M174.8 494.45V508.25M172 494.45H177.6M172 508.25H177.6" stroke="#8B98B9" stroke-width="1.05" stroke-opacity="0.85" fill="none"/>
<path d="M222 493.87V500.91M219.2 493.87H224.8M219.2 500.91H224.8" stroke="#8B98B9" stroke-width="1.05" stroke-opacity="0.85" fill="none"/>
<polyline points="80.5,504.43 127.7,503.85 174.8,502.38 222,497.39" stroke="#8B98B9" stroke-width="1.6" fill="none" stroke-linejoin="round"/>
<path d="M80.5 500.84L83.7 506.64L77.3 506.64Z" fill="#8B98B9"/>
<path d="M127.7 500.25L130.9 506.05L124.5 506.05Z" fill="#8B98B9"/>
<path d="M174.8 498.78L178 504.58L171.6 504.58Z" fill="#8B98B9"/>
<path d="M222 493.79L225.2 499.59L218.8 499.59Z" fill="#8B98B9"/>
<path d="M80.5 461V484.18M77.7 461H83.3M77.7 484.18H83.3" stroke="#E8907F" stroke-width="1.05" stroke-opacity="0.85" fill="none"/>
<path d="M127.7 473.32V496.22M124.9 473.32H130.5M124.9 496.22H130.5" stroke="#E8907F" stroke-width="1.05" stroke-opacity="0.85" fill="none"/>
<path d="M174.8 473.32V494.75M172 473.32H177.6M172 494.75H177.6" stroke="#E8907F" stroke-width="1.05" stroke-opacity="0.85" fill="none"/>
<path d="M222 469.21V493.87M219.2 469.21H224.8M219.2 493.87H224.8" stroke="#E8907F" stroke-width="1.05" stroke-opacity="0.85" fill="none"/>
<polyline points="80.5,472.44 127.7,485.36 174.8,483.89 222,481.54" stroke="#E8907F" stroke-width="1.6" fill="none" stroke-linejoin="round"/>
<circle cx="80.5" cy="472.44" r="3.2" fill="#E8907F"/>
<circle cx="127.7" cy="485.36" r="3.2" fill="#E8907F"/>
<circle cx="174.8" cy="483.89" r="3.2" fill="#E8907F"/>
<circle cx="222" cy="481.54" r="3.2" fill="#E8907F"/>
<path d="M80.5 560.47V565.15M77.7 560.47H83.3M77.7 565.15H83.3" stroke="#1B436F" stroke-width="1.05" stroke-opacity="0.85" fill="none"/>
<path d="M127.7 555.01V562.81M124.9 555.01H130.5M124.9 562.81H130.5" stroke="#1B436F" stroke-width="1.05" stroke-opacity="0.85" fill="none"/>
<path d="M174.8 556.18V563.98M172 556.18H177.6M172 563.98H177.6" stroke="#1B436F" stroke-width="1.05" stroke-opacity="0.85" fill="none"/>
<path d="M222 540.58V561.25M219.2 540.58H224.8M219.2 561.25H224.8" stroke="#1B436F" stroke-width="1.05" stroke-opacity="0.85" fill="none"/>
<polyline points="80.5,564.37 127.7,558.91 174.8,560.08 222,551.11" stroke="#1B436F" stroke-width="1.6" fill="none" stroke-linejoin="round"/>
<path d="M80.5 560.77L83.7 566.57L77.3 566.57Z" fill="#1B436F"/>
<path d="M127.7 555.31L130.9 561.11L124.5 561.11Z" fill="#1B436F"/>
<path d="M174.8 556.48L178 562.28L171.6 562.28Z" fill="#1B436F"/>
<path d="M222 547.51L225.2 553.31L218.8 553.31Z" fill="#1B436F"/>
<path d="M80.5 533.56V555.01M77.7 533.56H83.3M77.7 555.01H83.3" stroke="#C8102E" stroke-width="1.05" stroke-opacity="0.85" fill="none"/>
<path d="M127.7 565.93V569.83M124.9 565.93H130.5M124.9 569.83H130.5" stroke="#C8102E" stroke-width="1.05" stroke-opacity="0.85" fill="none"/>
<path d="M174.8 561.25V566.71M172 561.25H177.6M172 566.71H177.6" stroke="#C8102E" stroke-width="1.05" stroke-opacity="0.85" fill="none"/>
<path d="M222 564.76V568.66M219.2 564.76H224.8M219.2 568.66H224.8" stroke="#C8102E" stroke-width="1.05" stroke-opacity="0.85" fill="none"/>
<polyline points="80.5,544.48 127.7,567.88 174.8,563.98 222,566.71" stroke="#C8102E" stroke-width="1.6" fill="none" stroke-linejoin="round"/>
<circle cx="80.5" cy="544.48" r="3.2" fill="#C8102E"/>
<rect x="124.9" y="565.08" width="5.6" height="5.6" fill="#C8102E"/>
<circle cx="174.8" cy="563.98" r="3.2" fill="#C8102E"/>
<rect x="219.2" y="563.91" width="5.6" height="5.6" fill="#C8102E"/>
<path d="M56.6 453.2V515H60.1" stroke="#222" stroke-width="1.5" fill="none"/>
<path d="M53 515H56.6" stroke="#222" stroke-width="1.2"/>
<text transform="translate(49.6 518.6) scale(0.88 1)" font-size="9.8" text-anchor="end" font-weight="normal" fill="#3a3a3a" >10</text>
<path d="M53 500.32H56.6" stroke="#222" stroke-width="1.2"/>
<text transform="translate(49.6 503.93) scale(0.88 1)" font-size="9.8" text-anchor="end" font-weight="normal" fill="#3a3a3a" >15</text>
<path d="M53 485.65H56.6" stroke="#222" stroke-width="1.2"/>
<text transform="translate(49.6 489.25) scale(0.88 1)" font-size="9.8" text-anchor="end" font-weight="normal" fill="#3a3a3a" >20</text>
<path d="M53 470.98H56.6" stroke="#222" stroke-width="1.2"/>
<text transform="translate(49.6 474.58) scale(0.88 1)" font-size="9.8" text-anchor="end" font-weight="normal" fill="#3a3a3a" >25</text>
<path d="M53 456.3H56.6" stroke="#222" stroke-width="1.2"/>
<text transform="translate(49.6 459.9) scale(0.88 1)" font-size="9.8" text-anchor="end" font-weight="normal" fill="#3a3a3a" >30</text>
<path d="M60.1 524.2H56.6V582.7" stroke="#222" stroke-width="1.5" fill="none"/>
<path d="M53 582.7H56.6" stroke="#222" stroke-width="1.2"/>
<text transform="translate(49.6 586.3) scale(0.88 1)" font-size="9.8" text-anchor="end" font-weight="normal" fill="#3a3a3a" >0.0</text>
<path d="M53 563.2H56.6" stroke="#222" stroke-width="1.2"/>
<text transform="translate(49.6 566.8) scale(0.88 1)" font-size="9.8" text-anchor="end" font-weight="normal" fill="#3a3a3a" >0.5</text>
<path d="M53 543.7H56.6" stroke="#222" stroke-width="1.2"/>
<text transform="translate(49.6 547.3) scale(0.88 1)" font-size="9.8" text-anchor="end" font-weight="normal" fill="#3a3a3a" >1.0</text>
<path d="M53 524.2H56.6" stroke="#222" stroke-width="1.2"/>
<text transform="translate(49.6 527.8) scale(0.88 1)" font-size="9.8" text-anchor="end" font-weight="normal" fill="#3a3a3a" >1.5</text>
<path d="M55.85 582.7H246" stroke="#222" stroke-width="1.5"/>
<path d="M80.5 582.7V586.2" stroke="#222" stroke-width="1.2"/>
<text transform="translate(80.5 597.5) scale(0.94 1)" font-size="9.3" text-anchor="middle" font-weight="normal" fill="#3a3a3a" >Baseline</text>
<path d="M127.7 582.7V586.2" stroke="#222" stroke-width="1.2"/>
<text transform="translate(127.7 597.5) scale(0.94 1)" font-size="9.3" text-anchor="middle" font-weight="normal" fill="#3a3a3a" >D29</text>
<path d="M174.8 582.7V586.2" stroke="#222" stroke-width="1.2"/>
<text transform="translate(174.8 597.5) scale(0.94 1)" font-size="9.3" text-anchor="middle" font-weight="normal" fill="#3a3a3a" >D57</text>
<path d="M222 582.7V586.2" stroke="#222" stroke-width="1.2"/>
<text transform="translate(222 597.5) scale(0.94 1)" font-size="9.3" text-anchor="middle" font-weight="normal" fill="#3a3a3a" >D85</text>
<text transform="translate(16.8 518.5) rotate(-90)" x="0" y="0" font-size="10.3" text-anchor="middle" fill="#3a3a3a" textLength="102" lengthAdjust="spacingAndGlyphs">Effector memory RA T cells/</text>
<text transform="translate(29.8 516.7) rotate(-90)" x="0" y="0" font-size="10.3" text-anchor="middle" fill="#3a3a3a" textLength="101" lengthAdjust="spacingAndGlyphs">CD4+ or CD8+ T cells, %</text>
<path d="M62 615.3H76" stroke="#C8102E" stroke-width="1.5"/>
<circle cx="69" cy="615.3" r="2.88" fill="#C8102E"/>
<text transform="translate(80.5 618.6) scale(0.94 1)" font-size="9.6" text-anchor="start" font-weight="normal" fill="#3a3a3a" >Leniolisib - CD4+</text>
<path d="M158 615.3H172" stroke="#E8907F" stroke-width="1.5"/>
<circle cx="165" cy="615.3" r="2.88" fill="#E8907F"/>
<text transform="translate(176.5 618.6) scale(0.94 1)" font-size="9.6" text-anchor="start" font-weight="normal" fill="#3a3a3a" >Leniolisib - CD8+</text>
<path d="M62 632.7H76" stroke="#1B436F" stroke-width="1.5"/>
<path d="M69 629.46L71.88 634.68L66.12 634.68Z" fill="#1B436F"/>
<text transform="translate(80.5 636) scale(0.94 1)" font-size="9.6" text-anchor="start" font-weight="normal" fill="#3a3a3a" >Placebo - CD4+</text>
<path d="M158 632.7H172" stroke="#8B98B9" stroke-width="1.5"/>
<path d="M165 629.46L167.88 634.68L162.12 634.68Z" fill="#8B98B9"/>
<text transform="translate(176.5 636) scale(0.94 1)" font-size="9.6" text-anchor="start" font-weight="normal" fill="#3a3a3a" >Placebo - CD8+</text>
<text x="271.5" y="450.2" font-size="13" text-anchor="start" font-weight="bold" fill="#111" >F</text>
<rect x="328.25" y="569.76" width="115.25" height="6.07" fill="#E1E0E5"/>
<path d="M341.8 512.7V550.16M339 512.7H344.6M339 550.16H344.6" stroke="#1B436F" stroke-width="1.05" stroke-opacity="0.85" fill="none"/>
<path d="M370.8 480.95V546.54M368 480.95H373.6M368 546.54H373.6" stroke="#1B436F" stroke-width="1.05" stroke-opacity="0.85" fill="none"/>
<path d="M400.2 491.34V542.69M397.4 491.34H403M397.4 542.69H403" stroke="#1B436F" stroke-width="1.05" stroke-opacity="0.85" fill="none"/>
<path d="M429.3 475.59V535.34M426.5 475.59H432.1M426.5 535.34H432.1" stroke="#1B436F" stroke-width="1.05" stroke-opacity="0.85" fill="none"/>
<polyline points="341.8,532.07 370.8,514.56 400.2,517.36 429.3,506.04" stroke="#1B436F" stroke-width="1.6" fill="none" stroke-linejoin="round"/>
<path d="M341.8 528.47L345 534.27L338.6 534.27Z" fill="#1B436F"/>
<path d="M370.8 510.97L374 516.77L367.6 516.77Z" fill="#1B436F"/>
<path d="M400.2 513.77L403.4 519.57L397 519.57Z" fill="#1B436F"/>
<path d="M429.3 502.45L432.5 508.25L426.1 508.25Z" fill="#1B436F"/>
<path d="M341.8 532.89V546.54M339 532.89H344.6M339 546.54H344.6" stroke="#C8102E" stroke-width="1.05" stroke-opacity="0.85" fill="none"/>
<path d="M370.8 562.41V568.48M368 562.41H373.6M368 568.48H373.6" stroke="#C8102E" stroke-width="1.05" stroke-opacity="0.85" fill="none"/>
<path d="M400.2 566.96V570.46M397.4 566.96H403M397.4 570.46H403" stroke="#C8102E" stroke-width="1.05" stroke-opacity="0.85" fill="none"/>
<path d="M429.3 568.6V570.93M426.5 568.6H432.1M426.5 570.93H432.1" stroke="#C8102E" stroke-width="1.05" stroke-opacity="0.85" fill="none"/>
<polyline points="341.8,538.49 370.8,565.33 400.2,568.71 429.3,569.76" stroke="#C8102E" stroke-width="1.6" fill="none" stroke-linejoin="round"/>
<circle cx="341.8" cy="538.49" r="3.2" fill="#C8102E"/>
<circle cx="370.8" cy="565.33" r="3.2" fill="#C8102E"/>
<rect x="397.4" y="565.91" width="5.6" height="5.6" fill="#C8102E"/>
<circle cx="429.3" cy="569.76" r="3.2" fill="#C8102E"/>
<path d="M327.5 462.1V581.9" stroke="#222" stroke-width="1.5"/>
<path d="M323.9 581.9H327.5" stroke="#222" stroke-width="1.2"/>
<text transform="translate(320.5 585.5) scale(0.88 1)" font-size="9.8" text-anchor="end" font-weight="normal" fill="#3a3a3a" >0</text>
<path d="M323.9 558.56H327.5" stroke="#222" stroke-width="1.2"/>
<text transform="translate(320.5 562.16) scale(0.88 1)" font-size="9.8" text-anchor="end" font-weight="normal" fill="#3a3a3a" >200</text>
<path d="M323.9 535.22H327.5" stroke="#222" stroke-width="1.2"/>
<text transform="translate(320.5 538.82) scale(0.88 1)" font-size="9.8" text-anchor="end" font-weight="normal" fill="#3a3a3a" >400</text>
<path d="M323.9 511.88H327.5" stroke="#222" stroke-width="1.2"/>
<text transform="translate(320.5 515.48) scale(0.88 1)" font-size="9.8" text-anchor="end" font-weight="normal" fill="#3a3a3a" >600</text>
<path d="M323.9 488.54H327.5" stroke="#222" stroke-width="1.2"/>
<text transform="translate(320.5 492.14) scale(0.88 1)" font-size="9.8" text-anchor="end" font-weight="normal" fill="#3a3a3a" >800</text>
<path d="M323.9 465.2H327.5" stroke="#222" stroke-width="1.2"/>
<text transform="translate(320.5 468.8) scale(0.88 1)" font-size="9.8" text-anchor="end" font-weight="normal" fill="#3a3a3a" >1000</text>
<path d="M326.75 581.9H444" stroke="#222" stroke-width="1.5"/>
<path d="M341.8 581.9V585.4" stroke="#222" stroke-width="1.2"/>
<path d="M370.8 581.9V585.4" stroke="#222" stroke-width="1.2"/>
<path d="M400.2 581.9V585.4" stroke="#222" stroke-width="1.2"/>
<path d="M429.3 581.9V585.4" stroke="#222" stroke-width="1.2"/>
<text transform="translate(345.3 593.9) rotate(-45)" font-size="9" text-anchor="end" fill="#3a3a3a">Baseline</text>
<text transform="translate(374.3 593.9) rotate(-45)" font-size="9" text-anchor="end" fill="#3a3a3a">D29</text>
<text transform="translate(403.7 593.9) rotate(-45)" font-size="9" text-anchor="end" fill="#3a3a3a">D57</text>
<text transform="translate(432.8 593.9) rotate(-45)" font-size="9" text-anchor="end" fill="#3a3a3a">D85</text>
<text transform="translate(293 522) rotate(-90)" x="0" y="0" font-size="10.3" text-anchor="middle" fill="#3a3a3a" textLength="59" lengthAdjust="spacingAndGlyphs">CXCL13, pg/mL</text>
<path d="M329.6 628.9H343.1" stroke="#C8102E" stroke-width="1.7"/>
<circle cx="336.35" cy="628.9" r="3.2" fill="#C8102E"/>
<text transform="translate(347.1 632.2) scale(0.94 1)" font-size="9.6" text-anchor="start" font-weight="normal" fill="#3a3a3a" >Leniolisib</text>
<path d="M393.5 628.9H407" stroke="#1B436F" stroke-width="1.7"/>
<path d="M400.25 625.3L403.45 631.1L397.05 631.1Z" fill="#1B436F"/>
<text transform="translate(411 632.2) scale(0.94 1)" font-size="9.6" text-anchor="start" font-weight="normal" fill="#3a3a3a" >Placebo</text>
</svg>
</body></html>
